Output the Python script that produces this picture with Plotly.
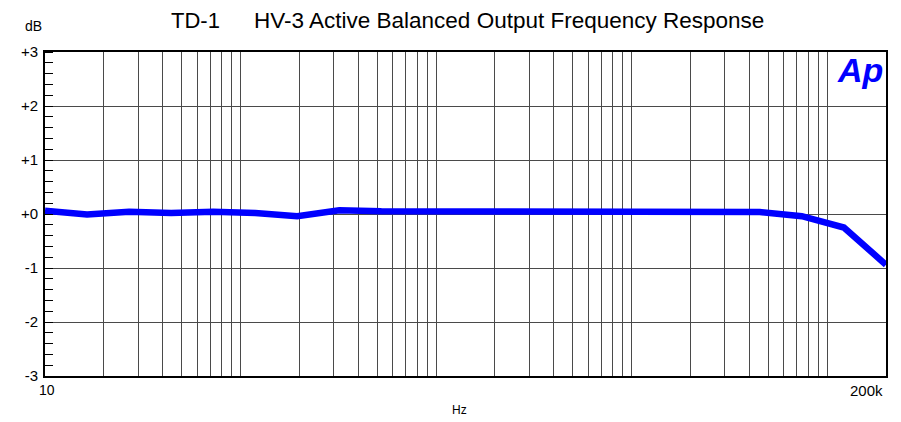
import math
import plotly.graph_objects as go

# Data
freq_hz = [10, 16.41, 26.92, 44.16, 72.46, 118.9, 195.0, 320.0, 525.0, 861.4,
           1413, 2319, 3805, 6243, 10243, 16807, 27575, 45243, 74232, 121793, 200000]
level_db = [0.06, -0.01, 0.04, 0.02, 0.04, 0.02, -0.04, 0.07, 0.05, 0.05,
            0.05, 0.05, 0.05, 0.05, 0.05, 0.05, 0.06, 0.035, -0.04, -0.25, -0.94]

y_ticks = [-3, -2, -1, 0, 1, 2, 3]
y_labels = ["-3", "-2", "-1", "+0", "+1", "+2", "+3"]
x_grid = [m * d for d in [10, 100, 1000, 10000, 100000] for m in range(1, 10) if m * d <= 200000] + [200000]

FONT = "Liberation Sans, Arial, sans-serif"

# The page body has an 8px default margin; size the figure so it fits the 901x422 window.
fig = go.Figure()
fig.add_trace(go.Scatter(x=freq_hz, y=level_db, mode="lines",
                         line=dict(color="#0000ff", width=6.5), showlegend=False,
                         hoverinfo="skip"))

fig.update_layout(
    width=893, height=414,
    margin=dict(l=37, r=15, t=44, b=46, autoexpand=False),
    paper_bgcolor="white", plot_bgcolor="white",
    font=dict(family=FONT, color="black"),
    xaxis=dict(type="log", range=[1, math.log10(200000)],
               tickvals=x_grid, ticktext=["" for _ in x_grid],
               showgrid=True, gridcolor="#4a4a4a", gridwidth=1,
               showline=True, linecolor="black", linewidth=2, mirror=True,
               ticks="", zeroline=False, automargin=False),
    yaxis=dict(range=[-3, 3], tickvals=y_ticks, ticktext=y_labels,
               tickfont=dict(size=15, family=FONT, color="black"),
               showgrid=True, gridcolor="#4a4a4a", gridwidth=1,
               showline=True, linecolor="black", linewidth=2, mirror=True,
               ticks="", ticklabelstandoff=2, zeroline=False, automargin=False,
               minor=dict(dtick=0.2, ticks="inside", ticklen=8,
                          tickcolor="black", tickwidth=1, showgrid=False)),
)

def px_to_paper_x(px):
    return (px - 45) / 841.0

def px_to_paper_y(py):
    return (376 - py) / 324.0

ann = [
    dict(text="TD-1", x=px_to_paper_x(169), y=px_to_paper_y(20), xanchor="left", yanchor="middle", font=dict(size=22)),
    dict(text="HV-3 Active Balanced Output Frequency Response", x=px_to_paper_x(252), y=px_to_paper_y(20),
         xanchor="left", yanchor="middle", font=dict(size=22.5)),
    dict(text="dB", x=px_to_paper_x(23), y=px_to_paper_y(26), xanchor="left", yanchor="middle", font=dict(size=14)),
    dict(text="10", x=px_to_paper_x(47), y=px_to_paper_y(390), xanchor="center", yanchor="middle", font=dict(size=14)),
    dict(text="200k", x=px_to_paper_x(885), y=px_to_paper_y(390), xanchor="right", yanchor="middle", font=dict(size=15)),
    dict(text="Hz", x=px_to_paper_x(459), y=px_to_paper_y(410), xanchor="center", yanchor="middle", font=dict(size=12)),
    dict(text="<b><i>Ap</i></b>", x=px_to_paper_x(885), y=px_to_paper_y(70), xanchor="right", yanchor="middle",
         font=dict(size=34, color="#0000ff", family=FONT)),
]
for a in ann:
    a.update(xref="paper", yref="paper", showarrow=False)
    fig.add_annotation(**a)

fig.write_html("out.html")
